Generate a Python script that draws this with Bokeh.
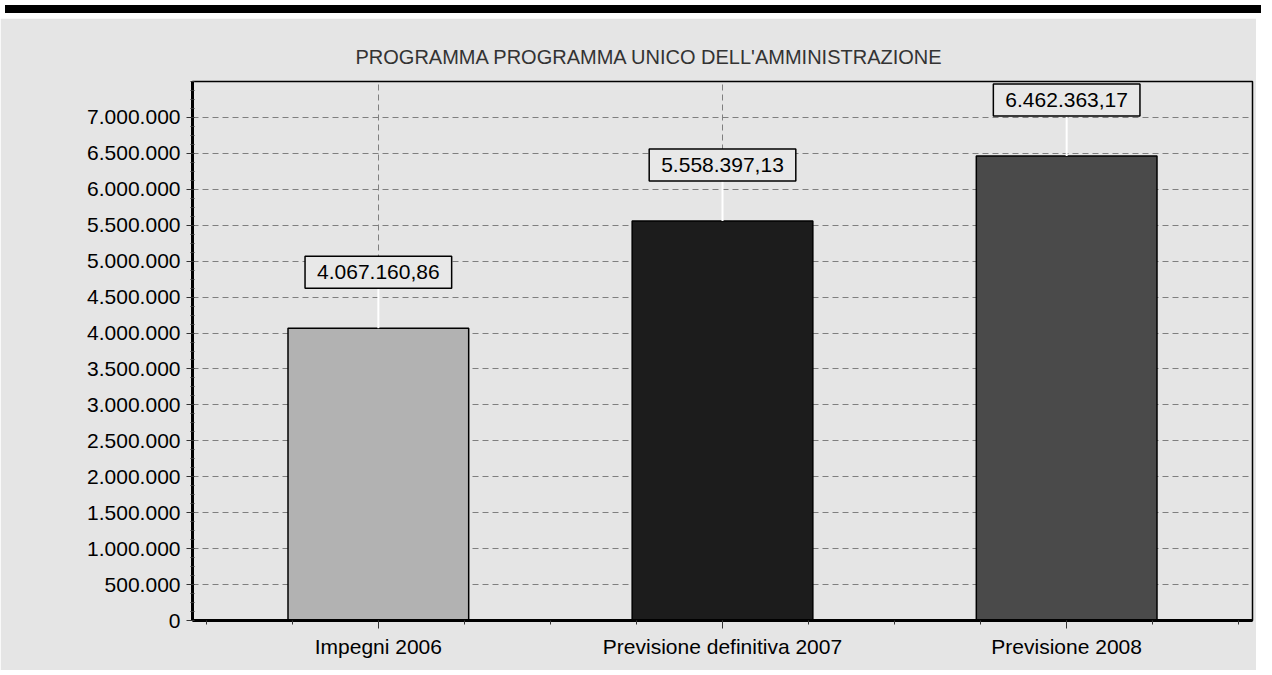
from math import pi

from bokeh.plotting import figure
from bokeh.models import FixedTicker, Label, Div
from bokeh.layouts import column
from bokeh.embed import file_html
from bokeh.resources import INLINE

# ---------------- data ----------------
TITLE = "PROGRAMMA PROGRAMMA UNICO DELL'AMMINISTRAZIONE"
CATEGORIES = ["Impegni 2006", "Previsione definitiva 2007", "Previsione 2008"]
VALUES = [4067160.86, 5558397.13, 6462363.17]
BAR_COLORS = ["#b2b2b2", "#1c1c1c", "#4a4a4a"]
Y_TICKS = [0, 500000, 1000000, 1500000, 2000000, 2500000, 3000000, 3500000,
           4000000, 4500000, 5000000, 5500000, 6000000, 6500000, 7000000]
Y_TICK_LABELS = ["0", "500.000", "1.000.000", "1.500.000", "2.000.000", "2.500.000",
                 "3.000.000", "3.500.000", "4.000.000", "4.500.000", "5.000.000",
                 "5.500.000", "6.000.000", "6.500.000", "7.000.000"]


def it_format(v):
    s = f"{v:,.2f}"
    return s.replace(",", "X").replace(".", ",").replace("X", ".")


X = [i + 1 for i in range(len(CATEGORIES))]
LABELS = [it_format(v) for v in VALUES]

BG = "#e5e5e5"
FONT = "Liberation Sans"

p = figure(width=1256, height=652, x_range=(0.46, 3.54), y_range=(0, 7500000),
           output_backend="svg", toolbar_location=None,
           min_border_left=192, min_border_right=4, min_border_top=63, min_border_bottom=50)

p.background_fill_color = BG
p.border_fill_color = BG
p.outline_line_color = "black"
p.outline_line_width = 1.5

# title
p.title.text = TITLE
p.title.align = "left"
p.title.offset = 163
p.title.standoff = 27
p.title.text_font = FONT
p.title.text_font_size = "20px"
p.title.text_font_style = "normal"
p.title.text_color = "#333333"

# tickers
yminor = [i * 125000 for i in range(0, 61)]
xminor = [0.5 + 0.25 * i for i in range(0, 13)]
p.yaxis.ticker = FixedTicker(ticks=Y_TICKS, minor_ticks=yminor)
p.xaxis.ticker = FixedTicker(ticks=X, minor_ticks=xminor)
p.yaxis.major_label_overrides = {t: lab for t, lab in zip(Y_TICKS, Y_TICK_LABELS)}
p.xaxis.major_label_overrides = {x: c for x, c in zip(X, CATEGORIES)}

for ax in (p.xaxis, p.yaxis):
    ax.axis_line_width = 3
    ax.axis_line_color = "black"
    ax.major_tick_line_color = "#333333"
    ax.minor_tick_line_color = "#333333"
    ax.major_tick_in = 0
    ax.major_label_text_font = FONT
    ax.major_label_text_font_size = "21px"
    ax.major_label_text_color = "black"

p.yaxis.major_tick_out = 6
p.yaxis.minor_tick_out = 2
p.yaxis.minor_tick_in = 2
p.yaxis.major_label_standoff = 6
p.xaxis.major_tick_out = 8
p.xaxis.minor_tick_out = 4
p.xaxis.minor_tick_in = 0
p.xaxis.major_label_standoff = 6

# grids
for g in (p.xgrid, p.ygrid):
    g.grid_line_color = "#7f7f7f"
    g.grid_line_dash = "6 4"
    g.grid_line_width = 1
p.ygrid.ticker = p.yaxis[0].ticker
p.xgrid.ticker = p.xaxis[0].ticker

# bars
p.vbar(x=X, top=VALUES, width=0.525, fill_color=BAR_COLORS,
       line_color="black", line_width=1.5)

# leader lines
p.ray(x=X, y=VALUES, length=40, angle=pi / 2, length_units="screen",
      line_color="white", line_width=2)

# value labels
for x, v, t in zip(X, VALUES, LABELS):
    p.add_layout(Label(x=x, y=v, text=t, y_offset=40, text_align="center",
                       text_baseline="bottom", text_font=FONT, text_font_size="21px",
                       text_color="black", background_fill_color="#e8e8e8",
                       border_line_color="black", border_line_width=1.5,
                       padding=(12, 9)))

band = Div(text="", width=1256, height=8, styles={"background-color": "#000000"})
layout = column(band, p)

open("out.html", "w").write(file_html(layout, INLINE))
